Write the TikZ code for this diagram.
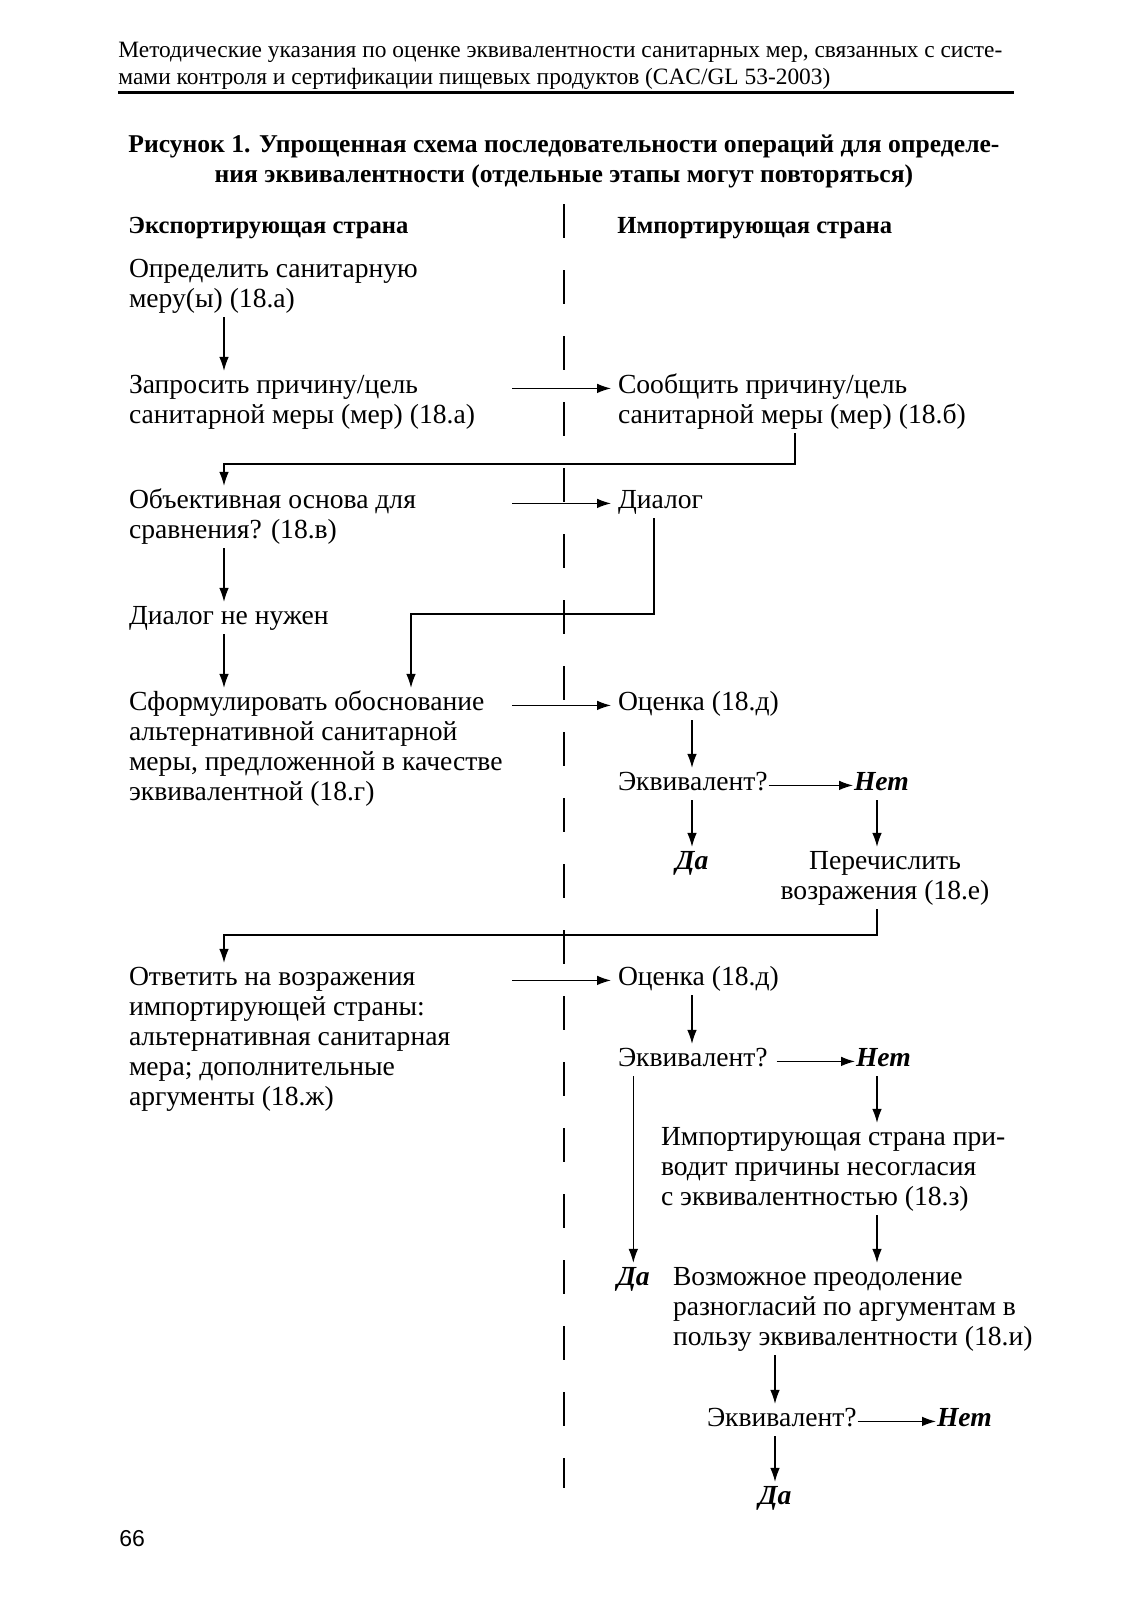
\documentclass[tikz,border=0pt]{standalone}
\usepackage{fontspec}
\setmainfont{Liberation Serif}
\setsansfont{Liberation Sans}
\usetikzlibrary{arrows.meta,positioning,calc}

\newcommand{\bodyfont}{\fontsize{13.8}{15.1}\selectfont}
\newcommand{\runfont}{\fontsize{11.7}{13.5}\selectfont}
\newcommand{\titlefont}{\fontsize{12.8}{15.5}\selectfont\bfseries}
% first-line baseline for stacked lines
\newcommand{\lrows}[1]{\begin{tabular}[t]{@{}l@{}}#1\end{tabular}}
\newcommand{\crows}[1]{\begin{tabular}[t]{@{}c@{}}#1\end{tabular}}

\begin{document}
\begin{tikzpicture}[x=0.5pt,y=-0.5pt,
  txt/.style={anchor=base west, inner sep=0pt, outer sep=0.5pt, font=\bodyfont},
  ctxt/.style={anchor=base, inner sep=0pt, outer sep=0.5pt, font=\bodyfont},
  ans/.style={anchor=base west, inner sep=0pt, outer sep=0.5pt, font=\bodyfont\bfseries\itshape},
  colhead/.style={anchor=base west, inner sep=0pt, font=\fontsize{12.3}{14}\selectfont\bfseries},
  arr/.style={-{Latex[length=7pt,width=4.8pt]}, line width=0.6pt},
  harr/.style={arr, shorten >=3pt},
  divider/.style={line width=0.6pt, dash pattern=on 17pt off 16pt}]
  \useasboundingbox[fill=white] (0,0) rectangle (1132,1600);

  % running header and caption
  \node[anchor=base west, inner sep=0pt, font=\runfont] (runhead) at (118,58)
    {\lrows{Методические указания по оценке эквивалентности санитарных мер, связанных с систе-\\
     мами контроля и сертификации пищевых продуктов (CAC/GL 53-2003)}};
  \draw[line width=1.5pt] (118,93) -- (1014,93);
  \node[anchor=base, inner sep=0pt, font=\titlefont] (caption) at (564,152)
    {\crows{Рисунок 1. Упрощенная схема последовательности операций для определе-\\
     ния эквивалентности (отдельные этапы могут повторяться)}};

  % columns
  \node[colhead] (exphead) at (128,233) {Экспортирующая страна};
  \node[colhead] (imphead) at (617,233) {Импортирующая страна};
  \draw[divider] (564,204) -- (564,1488);

  % connector columns
  \coordinate (xA) at (512,0);
  \coordinate (xL) at (224,0);
  \coordinate (xM) at (411,0);
  \coordinate (xR) at (692,0);
  \coordinate (xN) at (877,0);
  \coordinate (xE) at (775,0);
  \coordinate (busA) at (795,464);
  \coordinate (busB) at (654,614);
  \coordinate (busC) at (877,935);

  % exporting country
  \node[txt] (defmeasure) at (128,277) {\lrows{Определить санитарную\\меру(ы) (18.а)}};
  \node[txt] (askreason) at (128,393) {\lrows{Запросить причину/цель\\санитарной меры (мер) (18.а)}};
  \node[txt] (objbasis) at (128,508) {\lrows{Объективная основа для\\сравнения? (18.в)}};
  \node[txt] (nodialog) at (128,624) {\lrows{Диалог не нужен}};
  \node[txt] (justify) at (128,710) {\lrows{Сформулировать обоснование\\альтернативной санитарной\\меры, предложенной в качестве\\эквивалентной (18.г)}};
  \node[txt] (answer) at (128,985) {\lrows{Ответить на возражения\\импортирующей страны:\\альтернативная санитарная\\мера; дополнительные\\аргументы (18.ж)}};

  % importing country
  \node[txt] (givereason) at (617,393) {\lrows{Сообщить причину/цель\\санитарной меры (мер) (18.б)}};
  \node[txt] (dialog) at (617,508) {\lrows{Диалог}};
  \node[txt] (eval1) at (617,710) {\lrows{Оценка (18.д)}};
  \node[txt] (equiv1) at (617,790) {\lrows{Эквивалент?}};
  \node[ans] (no1) at (853,790) {\lrows{Нет}};
  \node[ans, anchor=base] (yes1) at (692,869) {\lrows{Да}};
  \node[ctxt] (objections) at (885,869) {\crows{Перечислить\\возражения (18.е)}};
  \node[txt] (eval2) at (617,985) {\lrows{Оценка (18.д)}};
  \node[txt] (equiv2) at (617,1066) {\lrows{Эквивалент?}};
  \node[ans] (no2) at (855,1066) {\lrows{Нет}};
  \node[txt] (reasons) at (660,1145) {\lrows{Импортирующая страна при-\\водит причины несогласия\\с эквивалентностью (18.з)}};
  \node[ans] (yes2) at (616,1285) {\lrows{Да}};
  \node[txt] (overcome) at (672,1285) {\lrows{Возможное преодоление\\разногласий по аргументам в\\пользу эквивалентности (18.и)}};
  \node[txt] (equiv3) at (706,1426) {\lrows{Эквивалент?}};
  \node[ans] (no3) at (936,1426) {\lrows{Нет}};
  \node[ans, anchor=base] (yes3) at (775,1504) {\lrows{Да}};

  \node[anchor=base west, inner sep=0pt, font=\sffamily\fontsize{11.5}{13}\selectfont] (pageno) at (119,1546) {66};

  % flow
  \draw[arr] (defmeasure.south -| xL) -- (askreason.north -| xL);
  \draw[harr] (givereason.mid west -| xA) -- (givereason.mid west);
  \draw[arr] (givereason.south -| busA) -- (busA) -| (objbasis.north -| xL);
  \draw[harr] (dialog.mid west -| xA) -- (dialog.mid west);
  \draw[arr] (objbasis.south -| xL) -- (nodialog.north -| xL);
  \draw[arr] (nodialog.south -| xL) -- (justify.north -| xL);
  \draw[arr] (dialog.south -| busB) -- (busB) -| (justify.north -| xM);
  \draw[harr] (eval1.mid west -| xA) -- (eval1.mid west);
  \draw[arr] (eval1.south -| xR) -- (equiv1.north -| xR);
  \draw[arr] (equiv1.mid east) -- (no1.mid west);
  \draw[arr] (equiv1.south -| yes1) -- (yes1.north);
  \draw[arr] (no1.south -| xN) -- (objections.north -| xN);
  \draw[arr] (objections.south -| busC) -- (busC) -| (answer.north -| xL);
  \draw[harr] (eval2.mid west -| xA) -- (eval2.mid west);
  \draw[arr] (eval2.south -| xR) -- (equiv2.north -| xR);
  \draw[arr, shorten <=4pt] (equiv2.mid east) -- (no2.mid west);
  \draw[arr] (equiv2.south -| yes2) -- (yes2.north);
  \draw[arr] (no2.south -| xN) -- (reasons.north -| xN);
  \draw[arr] (reasons.south -| xN) -- (overcome.north -| xN);
  \draw[arr] (overcome.south -| xE) -- (equiv3.north -| xE);
  \draw[arr] (equiv3.mid east) -- (no3.mid west);
  \draw[arr] (equiv3.south -| xE) -- (yes3.north);
\end{tikzpicture}
\end{document}
